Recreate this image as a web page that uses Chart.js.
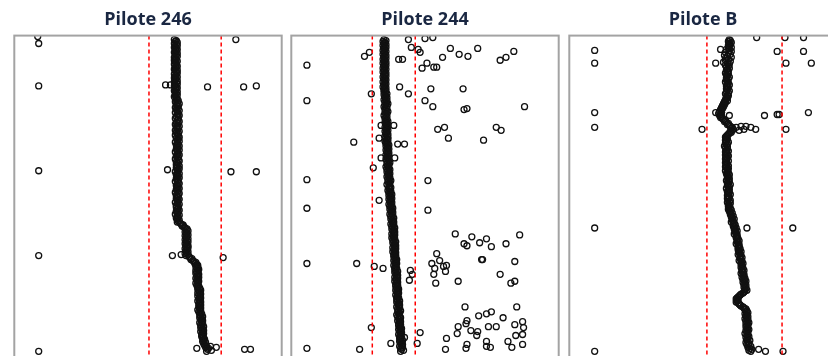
<!DOCTYPE html>
<html>
<head>
<meta charset="utf-8">
<script src="https://cdn.jsdelivr.net/npm/chart.js@4.4.1/dist/chart.umd.min.js"></script>
<style>
  html, body { margin: 0; padding: 0; background: #fff; overflow: hidden; }
  body { width: 828px; height: 356px; position: relative; }
  canvas { position: absolute; top: 0; }
</style>
</head>
<body>
<canvas id="p246" width="278" height="400" style="left:9px"></canvas>
<canvas id="p244" width="278" height="400" style="left:286px"></canvas>
<canvas id="pB" width="278" height="400" style="left:564px"></canvas>
<script>
// panel titles
const panelTitles = ["Pilote 246", "Pilote 244", "Pilote B"];

// main trace: one reading per sample, one sample per depth unit
const firstDepth = 4;
const sampleStep = 1;
const depthMax = 364;
const widthMax = 274;

const trace246 = [
  164,166,165,167,164,166,167,165,164,166,
  167,165,166,164,167,165,166,167,164,165,
  166,164,167,165,166,164,166,167,165,166,
  164,167,165,166,167,164,166,165,167,164,
  166,165,167,164,166,167,165,164,166,167,
  165,166,164,167,165,166,167,165,164,166,
  167,166,168,165,167,169,166,168,167,165,
  168,166,169,167,165,168,167,169,166,168,
  165,168,167,169,166,168,165,167,169,166,
  168,167,165,169,166,168,167,165,168,169,
  166,168,167,169,165,167,168,166,169,167,
  168,166,169,167,165,168,167,169,166,168,
  167,165,168,169,166,167,168,166,169,167,
  166,169,167,168,165,167,169,166,168,167,
  169,166,168,167,165,168,169,167,166,168,
  167,169,166,168,167,165,169,168,166,167,
  168,166,169,167,168,165,167,169,166,168,
  166,168,167,169,166,168,167,165,169,167,
  168,166,167,169,168,167,170,171,173,172,
  174,175,177,176,178,175,177,176,178,175,
  177,176,178,175,177,178,176,175,177,178,
  176,178,175,177,176,178,177,175,178,176,
  179,180,182,181,183,184,186,185,187,188,
  186,188,187,189,186,188,187,186,189,188,
  187,189,186,188,187,189,188,186,188,187,
  189,188,190,188,191,189,190,188,191,190,
  188,190,191,189,190,188,191,190,189,191,
  190,189,191,190,188,191,189,190,192,190,
  191,193,190,192,191,193,192,190,193,191,
  192,194,191,193,192,194,191,193,194,192,
  193,192,194,193,195,194,193,196,194,195,
  195,197,196,199,198,202,197
];

const trace244 = [
  95,97,94,96,95,97,94,96,97,95,
  96,94,97,95,96,94,97,96,95,97,
  94,96,95,97,94,96,97,95,96,94,
  97,95,96,94,97,96,95,97,94,96,
  95,97,96,94,96,97,95,96,94,97,
  96,95,97,95,96,98,95,97,96,98,
  97,95,98,96,97,99,96,98,95,97,
  98,96,97,99,96,98,97,95,98,97,
  96,98,97,99,96,98,97,99,98,96,
  98,97,99,96,98,97,99,98,96,99,
  97,99,98,96,99,97,98,100,97,99,
  98,100,97,99,98,100,99,97,100,98,
  99,97,100,98,99,101,98,100,99,97,
  100,98,101,99,98,100,101,99,100,98,
  101,99,100,102,99,101,100,98,101,100,
  102,100,101,99,102,100,101,103,100,102,
  101,103,100,102,101,103,102,100,103,101,
  102,104,101,103,102,104,103,101,104,102,
  103,105,102,104,103,105,104,102,105,103,
  104,106,103,105,104,106,105,103,106,104,
  105,103,106,104,105,107,104,106,105,107,
  106,104,107,105,106,104,107,106,105,107,
  105,107,106,108,105,107,106,108,107,105,
  107,106,108,106,107,109,106,108,107,109,
  108,106,109,107,108,106,109,108,107,109,
  107,109,108,110,107,109,108,110,109,107,
  109,108,110,108,109,111,108,110,109,111,
  110,108,111,109,110,112,109,111,110,108,
  111,109,112,110,111,109,112,111,110,112,
  110,112,111,113,110,112,111,113,112,110,
  112,111,113,111,112,114,111,113,112,114,
  113,111,114,112,113,115,112
];

const traceB = [
  164,165,163,166,164,165,163,164,166,163,
  161,164,166,160,163,165,159,162,166,160,
  163,160,165,158,162,164,160,163,161,164,
  162,161,163,162,160,163,161,162,164,161,
  163,161,162,160,163,162,164,161,162,163,
  161,162,164,161,163,160,162,163,161,162,
  161,160,162,159,160,158,159,157,158,156,
  157,155,156,154,156,153,155,154,156,155,
  157,158,160,159,161,163,162,164,165,167,
  166,168,167,165,166,164,163,162,161,160,
  161,162,160,161,163,160,162,161,159,162,
  160,162,161,163,160,161,162,160,163,161,
  162,160,161,163,161,160,162,161,163,160,
  161,163,162,160,162,163,161,164,162,163,
  162,164,163,161,164,162,163,165,162,164,
  163,161,164,163,162,164,163,165,162,163,
  164,162,163,165,164,162,165,163,164,163,
  164,165,163,166,164,165,167,165,166,168,
  166,167,169,167,168,166,169,168,170,168,
  169,171,169,170,172,170,171,169,172,171,
  172,171,173,172,174,172,173,171,174,173,
  174,173,175,173,174,176,174,175,173,176,
  175,177,175,176,174,177,176,178,176,177,
  177,176,178,177,179,177,178,176,179,178,
  179,177,180,178,179,181,178,180,179,181,
  180,179,181,180,182,180,179,178,176,175,
  174,173,172,171,173,172,171,173,174,175,
  176,178,179,181,180,182,181,183,180,182,
  181,183,182,180,183,181,182,184,181,183,
  182,181,183,182,184,181,183,182,180,183,
  182,184,181,183,182,185,183,181,184,182,
  184,186,183,185,187,184,186
];

// isolated readings [value, depth]
const outliers246 = [
  [24,1],[25,8],[25,51],[155,50],[160,50],[198,52],[235,52],[248,51],[227,4],
  [25,137],[157,136],[222,138],[248,138],[25,223],[162,223],[171,222],[214,225],
  [25,320],[187,317],[201,315],[207,316],[236,318],[242,318]
];

const outliers244 = [
  [120,4],[137,3],[145,2],[123,12],[130,14],[132,17],[163,13],[191,13],[172,19],
  [181,21],[228,16],[220,22],[214,25],[155,22],[75,21],[80,17],[16,30],[110,24],
  [114,24],[139,28],[134,33],[146,32],[149,32],[111,52],[143,54],[176,54],[82,59],
  [120,59],[16,66],[137,66],[145,72],[177,75],[180,74],[239,72],[92,91],[105,91],
  [150,95],[157,93],[210,93],[215,96],[161,104],[197,106],[64,108],[90,104],[97,108],
  [109,110],[116,110],[92,124],[106,124],[84,134],[16,146],[140,147],[16,175],
  [140,177],[90,167],[168,201],[185,204],[200,206],[234,202],[177,211],[180,213],
  [193,210],[205,214],[220,211],[149,221],[152,228],[144,231],[159,233],[156,234],
  [147,236],[158,239],[146,242],[148,251],[171,249],[195,227],[196,227],[229,229],
  [214,242],[225,251],[229,249],[16,231],[67,231],[85,234],[94,236],[122,238],
  [124,242],[121,248],[178,275],[231,275],[192,284],[200,282],[205,280],[217,286],
  [180,289],[179,292],[237,290],[238,296],[229,293],[171,295],[202,295],[210,295],
  [184,299],[190,304],[191,300],[170,302],[237,303],[230,304],[159,307],[132,301],
  [82,296],[129,312],[102,312],[200,310],[200,315],[204,316],[180,313],[179,317],
  [222,310],[226,316],[237,313],[158,318],[70,318],[16,317],[116,306]
];

const outliersB = [
  [192,2],[221,2],[240,2],[26,15],[213,16],[240,16],[26,28],[222,28],[248,28],
  [150,28],[155,14],[26,78],[200,81],[213,80],[215,80],[245,78],[26,93],[136,95],
  [222,95],[150,78],[156,78],[164,81],[171,93],[176,92],[181,92],[186,93],[191,95],
  [179,95],[174,96],[26,195],[182,195],[229,195],[26,320],[194,318],[201,320],[219,320]
];

// control limits (dashed red)
const limits246 = [138, 212];
const limits244 = [83, 127];
const limitsB = [141, 218];

const framePlugin = {
  id: "frame",
  afterDraw(chart) {
    const { ctx, chartArea: a } = chart;
    ctx.save();
    ctx.strokeStyle = "#a3a3a3";
    ctx.lineWidth = 2;
    ctx.strokeRect(a.left, a.top, a.right - a.left, a.bottom - a.top);
    ctx.restore();
  }
};

const ring = {
  pointRadius: 3,
  pointBorderWidth: 1.3,
  pointBorderColor: "#111111",
  pointBackgroundColor: "rgba(0,0,0,0)",
  showLine: false
};

function buildPanel(id, title, trace, outliers, limits) {
  const tracePts = trace.map((v, i) => ({ x: v, y: firstDepth + i * sampleStep }));
  const outPts = outliers.map(([x, y]) => ({ x: x, y: y }));
  const limitSets = limits.map(v => ({
    data: [{ x: v, y: 0 }, { x: v, y: depthMax }],
    showLine: true,
    borderColor: "#ff0000",
    borderWidth: 1.5,
    borderDash: [4, 3],
    pointRadius: 0
  }));

  new Chart(document.getElementById(id), {
    type: "scatter",
    data: {
      datasets: [
        ...limitSets,
        Object.assign({ data: tracePts }, ring),
        Object.assign({ data: outPts }, ring)
      ]
    },
    options: {
      responsive: false,
      animation: false,
      events: [],
      layout: { padding: { left: 2, right: 2, top: 0, bottom: 0 } },
      plugins: {
        legend: { display: false },
        tooltip: { enabled: false },
        title: {
          display: true,
          text: title,
          color: "#1a2742",
          font: { family: "Open Sans", size: 18, weight: "bold", lineHeight: 1.2 },
          padding: { top: 9, bottom: 5 }
        }
      },
      scales: {
        x: { type: "linear", min: 0, max: widthMax, display: false },
        y: { type: "linear", min: 0, max: depthMax, reverse: true, display: false }
      }
    },
    plugins: [framePlugin]
  });
}

buildPanel("p246", panelTitles[0], trace246, outliers246, limits246);
buildPanel("p244", panelTitles[1], trace244, outliers244, limits244);
buildPanel("pB", panelTitles[2], traceB, outliersB, limitsB);
</script>
</body>
</html>
